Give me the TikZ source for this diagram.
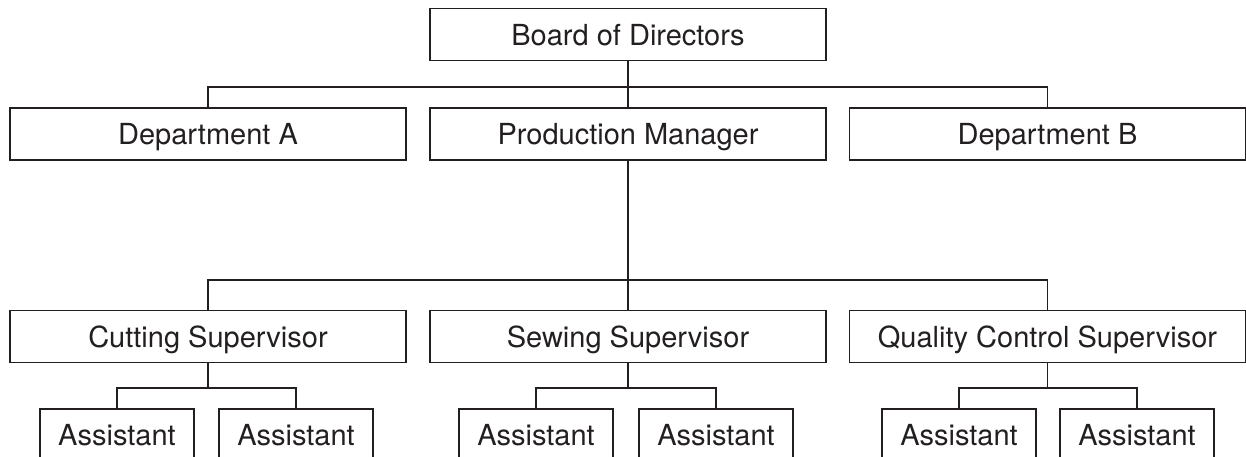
\documentclass[tikz,border=0pt]{standalone}
\usepackage{fontspec}
\setmainfont{TeX Gyre Heros}
\definecolor{ink}{HTML}{231F20}
\begin{document}
\begin{tikzpicture}[x=1pt,y=-1pt,
  orgbox/.style={draw=ink, text=ink, line width=1.4pt, minimum width=396pt, minimum height=52pt,
    inner sep=0pt, text height=21pt, text depth=0pt, font=\fontsize{29}{34}\selectfont},
  asstbox/.style={orgbox, minimum width=154pt},
  conn/.style={draw=ink, line width=1.4pt}]
\useasboundingbox (0,0) rectangle (1246,456);
\clip (0,0) rectangle (1246,456);
% nodes
\node[orgbox] (board) at (628,34.5) {Board of Directors};
\node[orgbox] (dA) at (208,134) {Department A};
\node[orgbox] (pm) at (628,134) {Production Manager};
\node[orgbox] (dB) at (1047.5,134) {Department B};
\node[orgbox] (cut) at (208,336.5) {Cutting Supervisor};
\node[orgbox] (sew) at (628,336.5) {Sewing Supervisor};
\node[orgbox] (qc) at (1047.5,336.5) {Quality Control Supervisor};
\node[asstbox] (a1) at (117,435) {Assistant};
\node[asstbox] (a2) at (296,435) {Assistant};
\node[asstbox] (a3) at (536,435) {Assistant};
\node[asstbox] (a4) at (716,435) {Assistant};
\node[asstbox] (a5) at (959,435) {Assistant};
\node[asstbox] (a6) at (1137,435) {Assistant};
% junctions
\coordinate (j1) at (628,87);
\coordinate (j2) at (628,280);
\coordinate (jc) at (208,388);
\coordinate (js) at (628,388);
\coordinate (jq) at (1047.5,388);
% connectors
\draw[conn] (board.south) -- (pm.north);
\draw[conn] (dA.north) |- (j1) -| (dB.north);
\draw[conn] (pm.south) -- (sew.north);
\draw[conn] (cut.north) |- (j2) -| (qc.north);
\draw[conn] (cut.south) -- (jc);
\draw[conn] (a1.north) |- (jc) -| (a2.north);
\draw[conn] (sew.south) -- (js);
\draw[conn] (a3.north) |- (js) -| (a4.north);
\draw[conn] (qc.south) -- (jq);
\draw[conn] (a5.north) |- (jq) -| (a6.north);
\end{tikzpicture}
\end{document}
